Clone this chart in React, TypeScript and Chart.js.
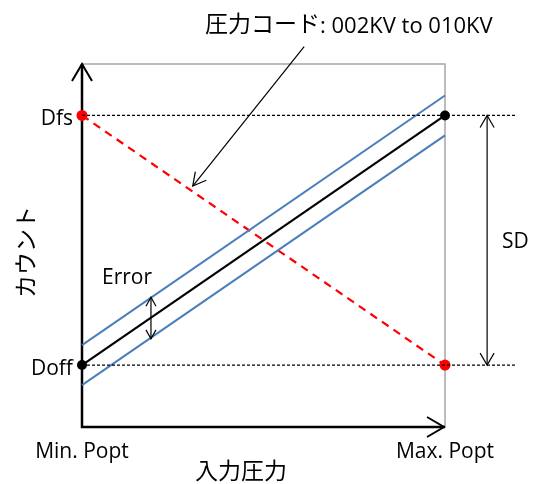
import React, { useEffect, useRef } from "react";
import { Chart, registerables } from "chart.js";

Chart.register(...registerables);

// ---- data ----
const xLabels = ["Min. Popt", "Max. Popt"];
const xPositions = [0, 1];
const levelLabels = ["Doff", "Dfs"];
const levelValues = [0, 1];
const idealCounts = [0, 1];
const upperBand = [0.08, 1.08];
const lowerBand = [-0.08, 0.92];
const reverseCounts = [1, 0];
const referenceLineEnd = 1.193;
const errorX = 0.19;
const errorSpan = [0.105, 0.272];
const sdX = 1.116;
const codeLabel = "圧力コード";
const codeRange = ": 002KV to 010KV";
const xTitle = "入力圧力";
const yTitle = "カウント";
const errorLabel = "Error";
const sdLabel = "SD";

const LATIN = "21px 'Open Sans', 'Noto Sans', sans-serif";
const LATIN_TITLE = "22px 'Open Sans', 'Noto Sans', sans-serif";
const CJK = "23px 'Noto Sans CJK JP', sans-serif";

function openHead(ctx: CanvasRenderingContext2D, fx: number, fy: number, tx: number, ty: number, len: number, half: number) {
  const dx = tx - fx;
  const dy = ty - fy;
  const d = Math.hypot(dx, dy) || 1;
  const ux = dx / d;
  const uy = dy / d;
  const nx = -uy;
  const ny = ux;
  const bx = tx - ux * len;
  const by = ty - uy * len;
  ctx.beginPath();
  ctx.moveTo(bx + nx * half, by + ny * half);
  ctx.lineTo(tx, ty);
  ctx.lineTo(bx - nx * half, by - ny * half);
  ctx.stroke();
}

function arrow(ctx: CanvasRenderingContext2D, fx: number, fy: number, tx: number, ty: number, len: number, half: number, both: boolean) {
  ctx.beginPath();
  ctx.moveTo(fx, fy);
  ctx.lineTo(tx, ty);
  ctx.stroke();
  openHead(ctx, fx, fy, tx, ty, len, half);
  if (both) openHead(ctx, tx, ty, fx, fy, len, half);
}

const diagramPlugin = {
  id: "diagram",
  beforeDatasetsDraw(chart: any) {
    const { ctx, chartArea: a } = chart;
    ctx.save();
    ctx.strokeStyle = "#a6a6a6";
    ctx.lineWidth = 1.5;
    ctx.beginPath();
    ctx.moveTo(a.left, a.top);
    ctx.lineTo(a.right, a.top);
    ctx.lineTo(a.right, a.bottom);
    ctx.stroke();
    ctx.strokeStyle = "#000";
    ctx.lineWidth = 2.5;
    ctx.lineCap = "butt";
    ctx.beginPath();
    ctx.moveTo(a.left, a.bottom + 1);
    ctx.lineTo(a.left, a.top);
    ctx.moveTo(a.left - 1, a.bottom);
    ctx.lineTo(a.right, a.bottom);
    ctx.stroke();
    ctx.lineWidth = 2;
    openHead(ctx, a.left, a.bottom, a.left, a.top, 17, 10);
    openHead(ctx, a.left, a.bottom, a.right - 1, a.bottom, 17, 10);
    ctx.restore();
  },
  afterDatasetsDraw(chart: any) {
    const { ctx } = chart;
    const xs = chart.scales.x;
    const ys = chart.scales.y;
    const px = (v: number) => xs.getPixelForValue(v);
    const py = (v: number) => ys.getPixelForValue(v);
    ctx.save();
    ctx.strokeStyle = "#000";
    ctx.lineWidth = 1.2;
    // SD arrow
    arrow(ctx, px(sdX), py(levelValues[1]), px(sdX), py(levelValues[0]), 12, 7, true);
    // Error arrow
    arrow(ctx, px(errorX), py(errorSpan[1]), px(errorX), py(errorSpan[0]), 9, 5, true);
    // annotation arrow
    arrow(ctx, px(0.612), py(1.276), px(0.305), py(0.717), 13, 7, false);

    ctx.fillStyle = "#000";
    ctx.font = LATIN;
    ctx.textBaseline = "alphabetic";
    // level labels
    ctx.textAlign = "right";
    levelLabels.forEach((l, i) => ctx.fillText(l, px(0) - 9, py(levelValues[i]) + 10));
    // x labels
    ctx.textAlign = "center";
    xLabels.forEach((l, i) => ctx.fillText(l, px(xPositions[i]), py(-0.248) + 30.5));
    // Error, SD
    ctx.textAlign = "left";
    ctx.fillText(errorLabel, px(errorX) - 49, py(errorSpan[1]) - 13);
    ctx.fillText(sdLabel, px(sdX) + 15, py(0.5) + 8);

    // title
    ctx.font = CJK;
    ctx.textBaseline = "middle";
    const x0 = 205;
    const w1 = ctx.measureText(codeLabel).width;
    ctx.fillText(codeLabel, x0, 23);
    ctx.font = LATIN_TITLE;
    ctx.textBaseline = "alphabetic";
    ctx.fillText(codeRange, x0 + w1, 33);

    // axis titles
    ctx.font = CJK;
    ctx.textBaseline = "middle";
    ctx.textAlign = "center";
    ctx.fillText(xTitle, 241, 470);
    ctx.translate(25, 252);
    ctx.rotate(-Math.PI / 2);
    ctx.fillText(yTitle, 0, 0);
    ctx.restore();
  },
};

export default function App() {
  const ref = useRef<HTMLCanvasElement | null>(null);
  useEffect(() => {
    if (!ref.current) return;
    const line = (x: number[], y: number[]) => x.map((v, i) => ({ x: v, y: y[i] }));
    const chart = new Chart(ref.current, {
      type: "scatter",
      data: {
        datasets: [
          {
            data: [{ x: xPositions[0], y: levelValues[1] }, { x: referenceLineEnd, y: levelValues[1] }],
            showLine: true,
            borderColor: "#000",
            borderWidth: 1.2,
            borderDash: [3, 2],
            pointRadius: 0,
            clip: false,
          },
          {
            data: [{ x: xPositions[0], y: levelValues[0] }, { x: referenceLineEnd, y: levelValues[0] }],
            showLine: true,
            borderColor: "#000",
            borderWidth: 1.2,
            borderDash: [3, 2],
            pointRadius: 0,
            clip: false,
          },
          {
            data: line(xPositions, upperBand),
            showLine: true,
            borderColor: "#4a7ebb",
            borderWidth: 2,
            pointRadius: 0,
            clip: false,
          },
          {
            data: line(xPositions, lowerBand),
            showLine: true,
            borderColor: "#4a7ebb",
            borderWidth: 2,
            pointRadius: 0,
            clip: false,
          },
          {
            data: line(xPositions, reverseCounts),
            showLine: true,
            borderColor: "#ff0000",
            borderWidth: 2.2,
            borderDash: [8, 6],
            pointRadius: 5.5,
            pointBackgroundColor: "#ff0000",
            pointBorderWidth: 0,
            clip: false,
          },
          {
            data: line(xPositions, idealCounts),
            showLine: true,
            borderColor: "#000",
            borderWidth: 2.2,
            pointRadius: 5,
            pointBackgroundColor: "#000",
            pointBorderWidth: 0,
            clip: false,
          },
        ],
      } as any,
      options: {
        animation: false,
        responsive: false,
        events: [],
        layout: { padding: { left: 82, right: 90, top: 64, bottom: 57 } },
        scales: {
          x: { type: "linear", min: 0, max: 1, display: false },
          y: { type: "linear", min: -0.248, max: 1.206, display: false },
        },
        plugins: { legend: { display: false }, tooltip: { enabled: false } },
      },
      plugins: [diagramPlugin],
    });
    return () => chart.destroy();
  }, []);
  return (
    <div style={{ position: "absolute", left: 0, top: 0, width: 535, height: 484, background: "#fff" }}>
      <canvas ref={ref} width={535} height={484} style={{ display: "block" }} />
    </div>
  );
}
